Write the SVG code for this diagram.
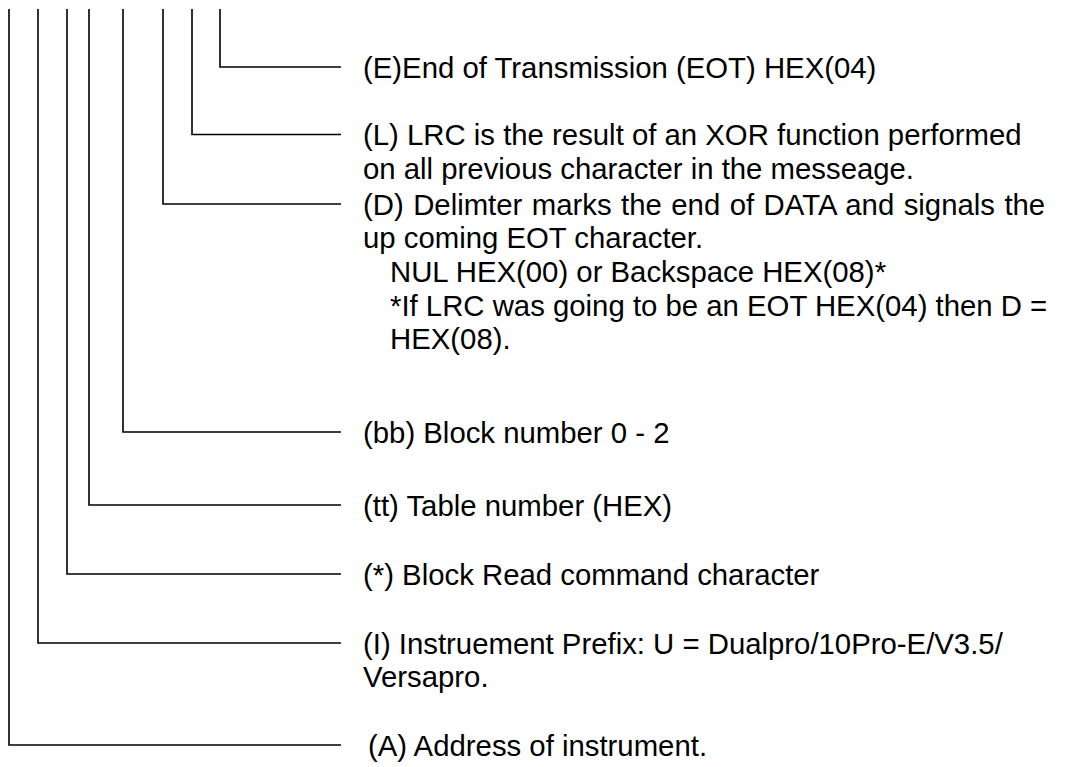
<svg xmlns="http://www.w3.org/2000/svg" width="1073" height="767" viewBox="0 0 1073 767">
<style>
.c{fill:none;stroke:#000;stroke-width:1.6}
.t{font-family:"Liberation Sans",Arial,sans-serif;font-size:29.33px;fill:#000}
</style>
<rect width="1073" height="767" fill="#fff"/>
<g id="connectors">
<path class="c" d="M220,9V67H341"/>
<path class="c" d="M192,9V134.5H341"/>
<path class="c" d="M163,9V204H341"/>
<path class="c" d="M123,9V432H341"/>
<path class="c" d="M89,9V505H341"/>
<path class="c" d="M67,9V574H341"/>
<path class="c" d="M38,9V643H341"/>
<path class="c" d="M9,9V745H341"/>
</g>
<g id="node-E"><text class="t" x="363" y="77.5">(E)End of Transmission (EOT) HEX(04)</text></g>
<g id="node-L"><text class="t" x="363" y="145">(L) LRC is the result of an XOR function performed</text><text class="t" x="363" y="178.7">on all previous character in the messeage.</text></g>
<g id="node-D"><text class="t" x="363" y="214.5" word-spacing="1.3">(D) Delimter marks the end of DATA and signals the</text><text class="t" x="363" y="248.2">up coming EOT character.</text><text class="t" x="390" y="281.9">NUL HEX(00) or Backspace HEX(08)*</text><text class="t" x="390" y="315.6">*If LRC was going to be an EOT HEX(04) then D =</text><text class="t" x="390" y="349.3">HEX(08).</text></g>
<g id="node-bb"><text class="t" x="363" y="442.5">(bb) Block number 0 - 2</text></g>
<g id="node-tt"><text class="t" x="363" y="515.5">(tt) Table number (HEX)</text></g>
<g id="node-star"><text class="t" x="363" y="584.5">(*) Block Read command character</text></g>
<g id="node-I"><text class="t" x="363" y="653.5">(I) Instruement Prefix: U = Dualpro/10Pro-E/V3.5/</text><text class="t" x="363" y="687.2">Versapro.</text></g>
<g id="node-A"><text class="t" x="368" y="755.5">(A) Address of instrument.</text></g>
</svg>
